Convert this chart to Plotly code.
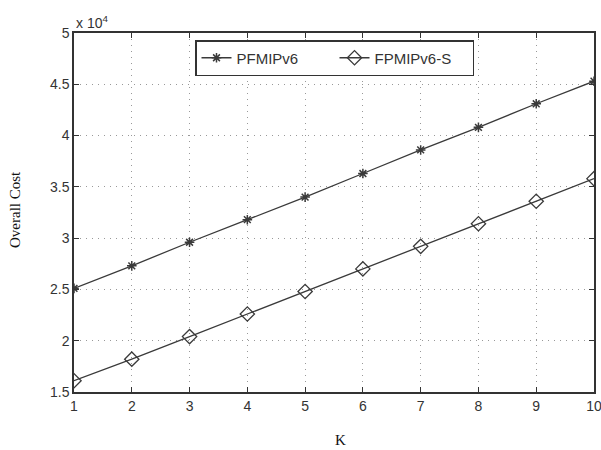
import plotly.graph_objects as go

K = [1, 2, 3, 4, 5, 6, 7, 8, 9, 10]
pfmipv6 = [2.51, 2.73, 2.96, 3.18, 3.40, 3.63, 3.86, 4.08, 4.31, 4.53]
fpmipv6_s = [1.61, 1.82, 2.04, 2.26, 2.48, 2.70, 2.92, 3.14, 3.36, 3.58]
y_ticks = [1.5, 2, 2.5, 3, 3.5, 4, 4.5, 5]
y_tick_labels = ["1.5", "2", "2.5", "3", "3.5", "4", "4.5", "5"]

W, H = 601, 450
L, R, T, B = 74, 594, 33, 392  # plot area in page pixels
PW, PH = R - L, B - T

line_col = "#3a3a3a"
fig = go.Figure()
fig.add_trace(go.Scatter(
    x=K, y=pfmipv6, name="PFMIPv6", mode="lines+markers",
    line=dict(color=line_col, width=1.3),
    marker=dict(symbol="asterisk-open", size=8, line=dict(color=line_col, width=1.5)),
))
fig.add_trace(go.Scatter(
    x=K, y=fpmipv6_s, name="FPMIPv6-S", mode="lines+markers",
    line=dict(color=line_col, width=1.3),
    marker=dict(symbol="diamond-open", size=11, color=line_col, line=dict(color=line_col, width=1.3)),
))

axis_common = dict(
    showline=True, linecolor="#333", linewidth=1.5, mirror="ticks",
    ticks="inside", ticklen=5, tickcolor="#333",
    showgrid=True, gridcolor="#999", griddash="1px,5px", gridwidth=1,
    zeroline=False, automargin=False, ticklabeloverflow="allow",
    tickfont=dict(family="Liberation Sans, Arial", size=14, color="#333"),
)
fig.update_xaxes(range=[1, 10], tickvals=K, **axis_common)
fig.update_yaxes(range=[1.5, 5], tickvals=y_ticks, ticktext=y_tick_labels, **axis_common)

fig.add_annotation(x=0, y=1, xref="paper", yref="paper", xanchor="left", yanchor="bottom",
                   text="x 10<sup>4</sup>", showarrow=False, yshift=0,
                   font=dict(family="Liberation Sans, Arial", size=14, color="#333"))
fig.add_annotation(x=(340 - L) / PW, y=(B - 440) / PH, xref="paper", yref="paper", yanchor="middle",
                   xanchor="center", text="K", showarrow=False,
                   font=dict(family="Liberation Serif, Times New Roman", size=15, color="#111"))
fig.add_annotation(x=(15 - L) / PW, y=(B - 210) / PH, xref="paper", yref="paper",
                   xanchor="center", yanchor="middle", text="Overall Cost", textangle=-90,
                   showarrow=False,
                   font=dict(family="Liberation Serif, Times New Roman", size=15, color="#111"))

fig.update_layout(
    width=W, height=H,
    margin=dict(l=L, r=W - R, t=T, b=H - B),
    paper_bgcolor="white", plot_bgcolor="white",
    showlegend=True,
    legend=dict(orientation="h", x=(195 - L) / PW, y=(B - 40) / PH, xanchor="left", yanchor="top",
                bordercolor="#333", borderwidth=1.5, bgcolor="white",
                font=dict(family="Liberation Sans, Arial", size=15, color="#333"),
                entrywidth=93, tracegroupgap=0),
)
fig.write_html("out.html", config={"displayModeBar": False},
               post_script="document.body.style.margin='0';document.body.style.overflow='hidden';")
